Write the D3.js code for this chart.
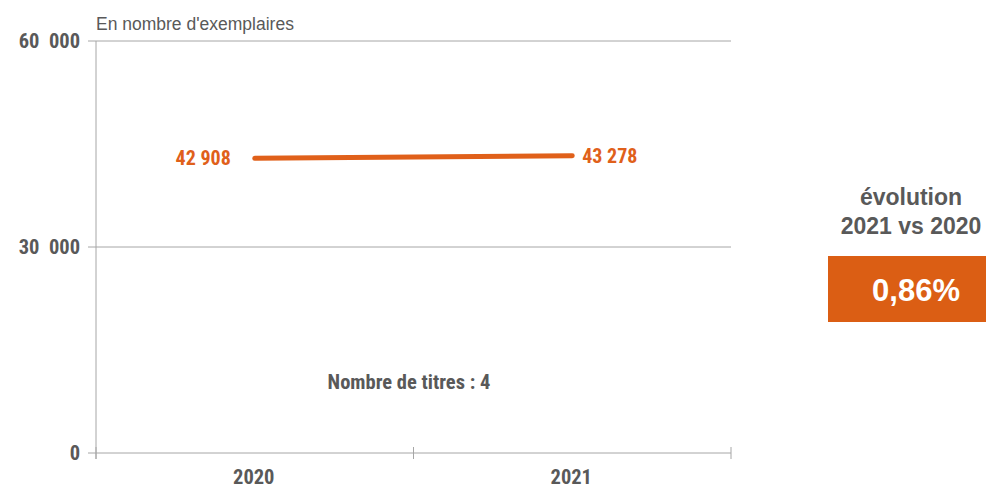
<!DOCTYPE html>
<html><head><meta charset="utf-8">
<script src="https://cdn.jsdelivr.net/npm/d3@7"></script>
<style>
body{margin:0;background:#fff;}
svg{display:block;}
.narrow{font-family:"Liberation Sans Narrow","Arial Narrow","Roboto Condensed",sans-serif;}
</style></head>
<body><svg id="c" width="986" height="488"></svg>
<script>
const categories = ["2020", "2021"];
const values = [42908, 43278];
const valueLabels = ["42 908", "43 278"];
const yTicks = [0, 30000, 60000];
const yTickLabels = ["0", "30  000", "60  000"];
const unitLabel = "En nombre d'exemplaires";
const noteLabel = "Nombre de titres : 4";
const evolutionTitle = ["évolution", "2021 vs 2020"];
const evolutionValue = "0,86%";

(function () {
const svg = d3.select("#c");
const mLeft = 96, mRight = 731, mTop = 41, mBottom = 453;
const x = d3.scaleBand().domain(categories).range([mLeft, mRight]);
const y = d3.scaleLinear().domain([0, 60000]).range([mBottom, mTop]);
const grey = "#a6a6a6", txt = "#595959", orange = "#E0601A";

svg.append("g").selectAll("line").data(yTicks).join("line")
  .attr("x1", mLeft - 8).attr("x2", mRight)
  .attr("y1", d => y(d)).attr("y2", d => y(d))
  .attr("stroke", grey).attr("stroke-width", 1);

svg.append("line").attr("x1", mLeft).attr("x2", mLeft).attr("y1", mTop).attr("y2", mBottom + 6)
  .attr("stroke", grey);

const bounds = categories.map(c => x(c)).concat([x(categories[categories.length-1]) + x.bandwidth()]);
svg.append("g").selectAll("line").data(bounds).join("line")
  .attr("x1", d => d).attr("x2", d => d).attr("y1", mBottom - 6).attr("y2", mBottom + 6)
  .attr("stroke", grey);

svg.append("g").selectAll("text").data(yTicks).join("text")
  .attr("class", "narrow")
  .attr("x", 80).attr("y", d => y(d)).attr("dy", "0.35em")
  .attr("text-anchor", "end").attr("font-size", 20.5).attr("font-weight", "bold")
  .attr("fill", txt).style("white-space", "pre")
  .text((d, i) => yTickLabels[i]);

svg.append("g").selectAll("text").data(categories).join("text")
  .attr("class", "narrow")
  .attr("x", d => x(d) + x.bandwidth() / 2 - 1).attr("y", 484)
  .attr("text-anchor", "middle").attr("font-size", 20.5).attr("font-weight", "bold")
  .attr("fill", txt).text(d => d);

svg.append("text").attr("x", 96).attr("y", 30)
  .attr("font-family", "Liberation Sans, Arial, sans-serif")
  .attr("font-size", 17.5).attr("fill", txt).text(unitLabel);

const line = d3.line().x((d, i) => x(categories[i]) + x.bandwidth() / 2).y(d => y(d));
svg.append("path").datum(values).attr("d", line)
  .attr("fill", "none").attr("stroke", orange).attr("stroke-width", 5)
  .attr("stroke-linecap", "round");

svg.append("text").attr("class", "narrow")
  .attr("x", x(categories[0]) + x.bandwidth() / 2 - 24).attr("y", y(values[0]))
  .attr("dy", "0.35em").attr("text-anchor", "end")
  .attr("font-size", 20).attr("font-weight", "bold").attr("fill", orange).text(valueLabels[0]);
svg.append("text").attr("class", "narrow")
  .attr("x", x(categories[1]) + x.bandwidth() / 2 + 10).attr("y", y(values[1]))
  .attr("dy", "0.35em").attr("text-anchor", "start")
  .attr("font-size", 20).attr("font-weight", "bold").attr("fill", orange).text(valueLabels[1]);

svg.append("text").attr("class", "narrow")
  .attr("x", 409).attr("y", 389).attr("text-anchor", "middle")
  .attr("font-size", 20.5).attr("font-weight", "bold").attr("fill", txt).text(noteLabel);

svg.append("g").selectAll("text").data(evolutionTitle).join("text")
  .attr("x", 911).attr("y", (d, i) => 205 + i * 29).attr("text-anchor", "middle")
  .attr("font-family", "Liberation Sans, Arial, sans-serif")
  .attr("font-size", 23).attr("font-weight", "bold").attr("fill", txt).text(d => d);
svg.append("rect").attr("x", 828).attr("y", 256).attr("width", 158).attr("height", 66)
  .attr("fill", "#DB5E14");
svg.append("text").attr("x", 916).attr("y", 290).attr("dy", "0.35em").attr("text-anchor", "middle")
  .attr("font-family", "Liberation Sans, Arial, sans-serif")
  .attr("font-size", 31).attr("font-weight", "bold").attr("fill", "#fff").text(evolutionValue);
})();
</script></body></html>
